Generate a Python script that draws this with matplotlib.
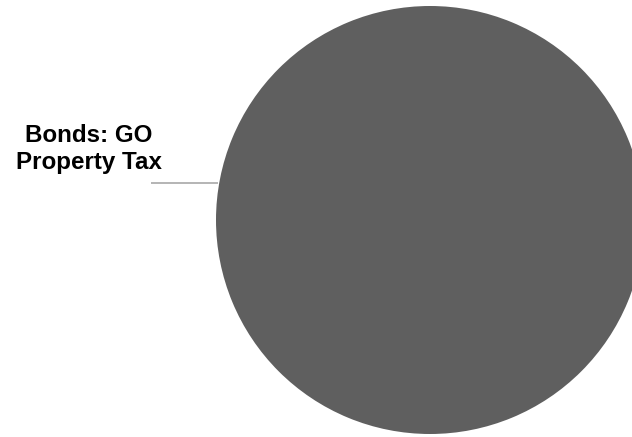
import matplotlib.pyplot as plt

labels = ["Bonds: GO\nProperty Tax"]
values = [100.0]
colors = ["#5f5f5f"]

fig = plt.figure(figsize=(6.32, 4.37), dpi=100)
ax = fig.add_axes([0, 0, 1, 1])

# single slice fills the whole pie
ax.pie(values, colors=colors, center=(430, 220), radius=214,
       startangle=90, counterclock=False,
       wedgeprops=dict(linewidth=0, antialiased=True))
ax.set_xlim(0, 632)
ax.set_ylim(437, 0)
ax.set_aspect("equal")
ax.axis("off")

# leader line from the label to the pie edge
ax.plot([151, 218], [183, 183], color="#a8a8a8", lw=1.2, solid_capstyle="butt")
ax.text(89, 149, labels[0], ha="center", va="center", fontsize=17.4,
        fontweight="bold", family="Liberation Sans", color="#000000",
        linespacing=1.2)

fig.savefig("out.png", dpi=100)
